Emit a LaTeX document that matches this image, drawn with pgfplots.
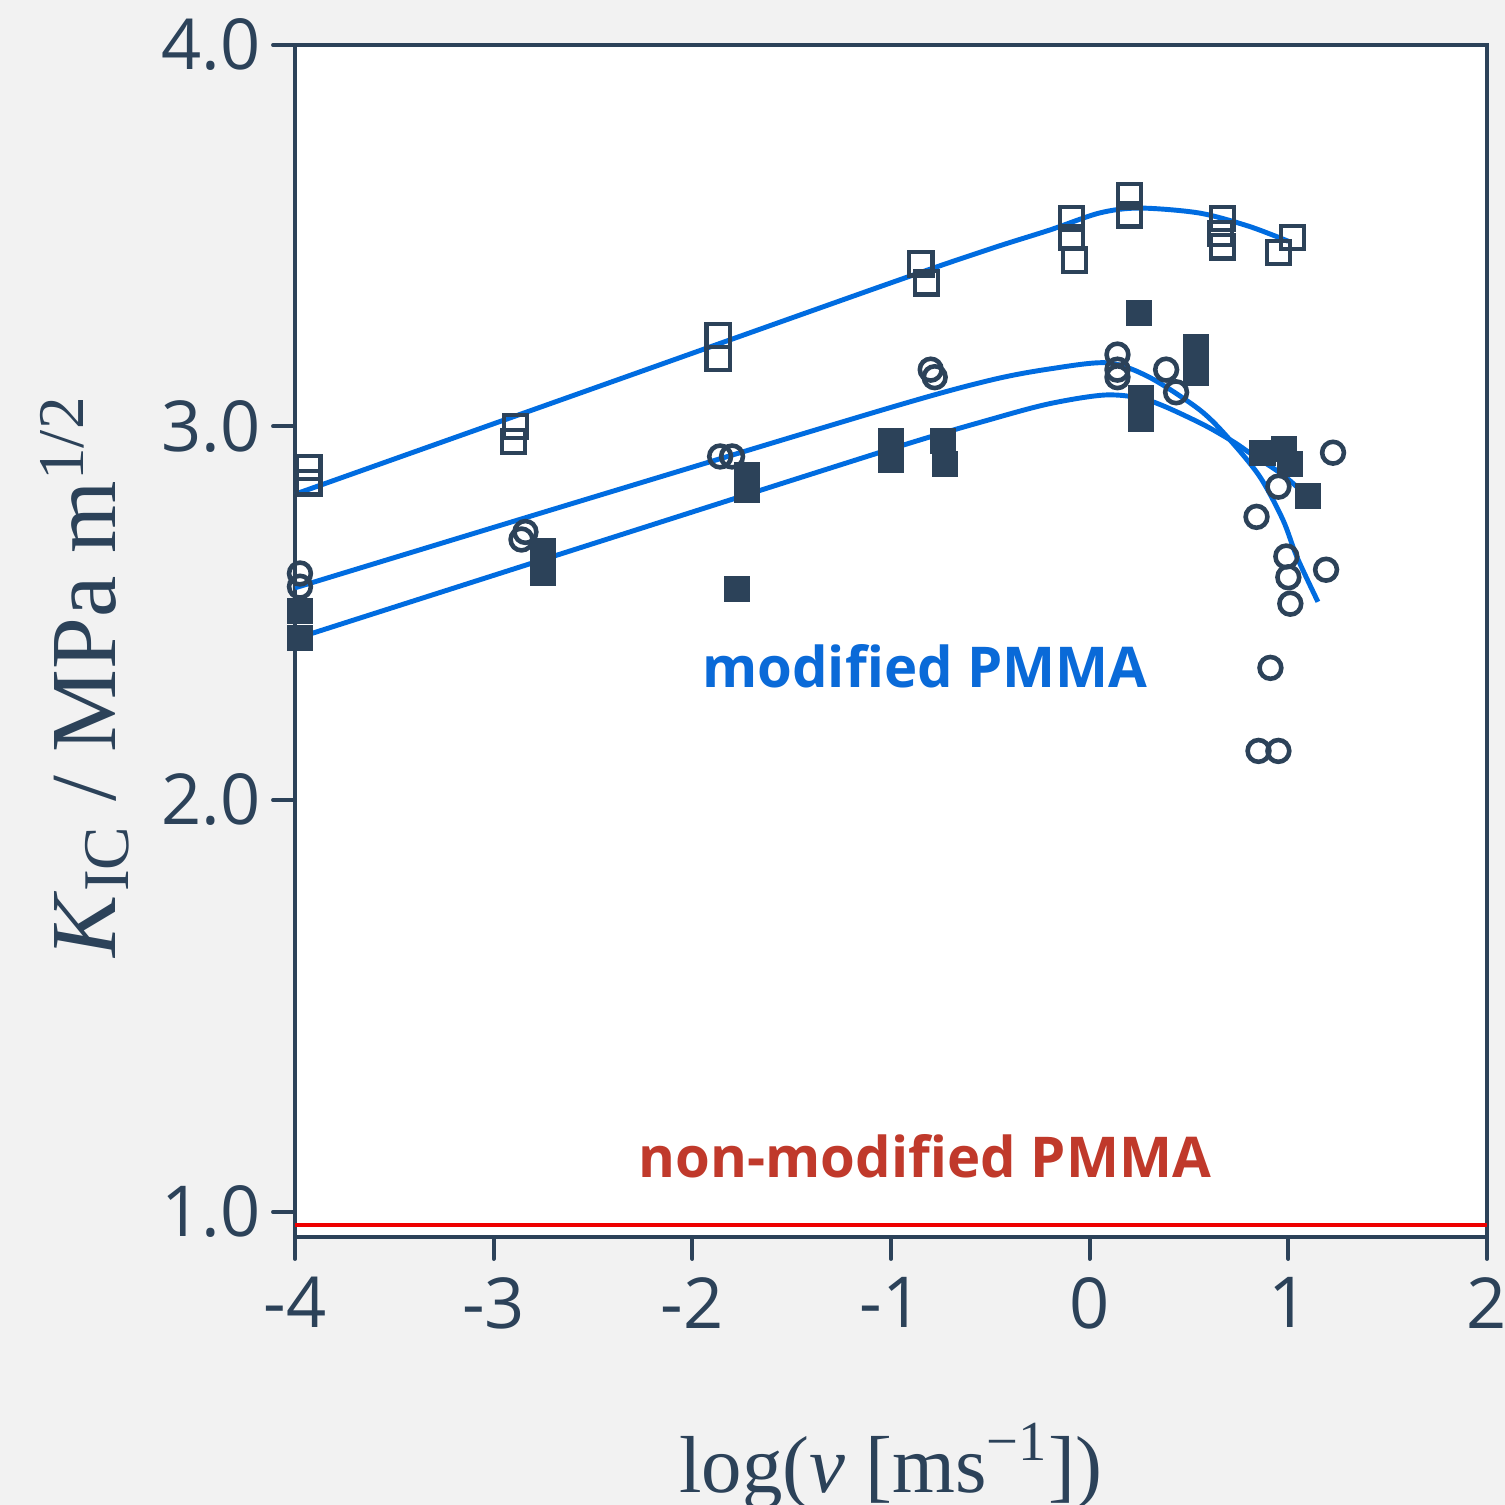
\documentclass[border=0pt]{standalone}
\usepackage{fontspec}
\setmainfont{Open Sans}
\newfontfamily\serif{Liberation Serif}
\usepackage{pgfplots}
\pgfplotsset{compat=1.18}
\usetikzlibrary{backgrounds}

\definecolor{navy}{RGB}{44,66,89}
\definecolor{lblue}{RGB}{0,108,224}
\definecolor{bg}{RGB}{242,242,242}
\definecolor{redtxt}{RGB}{192,57,43}
\definecolor{redline}{RGB}{238,0,0}
\definecolor{bluetxt}{RGB}{10,106,216}

\begin{document}
\begin{tikzpicture}
\begin{axis}[
    name=ax,
    width=11.92cm, height=11.92cm, scale only axis,
    xmin=-4, xmax=2, ymin=0.8424, ymax=4,
    axis background/.style={fill=white},
    axis line style={draw=navy, line width=1.4pt},
    xtick={-4,-3,-2,-1,0,1,2},
    xticklabels={-4,-3,-2,-1,0,1,2},
    ytick={0.909,2,2.99,4},
    yticklabels={1.0,2.0,3.0,4.0},
    tick align=outside, xtick pos=bottom, ytick pos=left,
    major tick length=0.22cm,
    tick style={draw=navy, line width=1.1pt, line cap=round},
    ticklabel style={font=\fontsize{20}{24}\selectfont, text=navy},
    xticklabel style={yshift=-0.06cm},
    xlabel={\serif\fontsize{23}{28}\selectfont log(\textit{v} [ms\textsuperscript{−1}])},
    xlabel style={at={(rel axis cs:0.5,-0.214)}, anchor=base, text=navy},
    ylabel={\serif\fontsize{26.5}{31}\selectfont \textit{K}\textsubscript{IC} / MPa m\textsuperscript{1/2}},
    ylabel style={at={(rel axis cs:-0.151,0.47)}, anchor=base, text=navy},
]
% open squares
\addplot[only marks, mark=square, mark size=3.3pt,
    mark options={draw=navy, line width=1.2pt}] coordinates {
    (-3.93,2.88) (-3.93,2.84) (-2.89,2.99) (-2.90,2.95)
    (-1.87,3.23) (-1.87,3.17) (-0.85,3.42) (-0.82,3.37)
    (-0.09,3.54) (-0.09,3.49) (-0.075,3.43) (0.20,3.60) (0.20,3.55)
    (0.67,3.54) (0.66,3.50) (0.67,3.465) (0.95,3.45) (1.02,3.49)
};
% filled squares
\addplot[only marks, mark=square*, mark size=3.4pt,
    mark options={draw=navy, fill=navy, line width=0.6pt}] coordinates {
    (-3.975,2.50) (-3.975,2.43) (-2.75,2.66) (-2.75,2.60)
    (-1.775,2.56) (-1.725,2.86) (-1.725,2.82) (-1.0,2.95) (-1.0,2.90)
    (-0.74,2.95) (-0.73,2.89) (0.25,3.29) (0.26,3.065) (0.26,3.01)
    (0.535,3.20) (0.535,3.13) (0.87,2.92) (0.98,2.93) (1.01,2.89) (1.10,2.805)
};
% open circles
\addplot[only marks, mark=o, mark size=3.1pt,
    mark options={draw=navy, line width=1.3pt}] coordinates {
    (-3.975,2.60) (-3.975,2.565) (-2.84,2.71) (-2.86,2.69)
    (-1.86,2.91) (-1.80,2.91) (-0.80,3.14) (-0.78,3.12)
    (0.14,3.18) (0.14,3.14) (0.14,3.12) (0.385,3.14) (0.435,3.08)
    (1.225,2.92) (0.95,2.83) (0.84,2.75) (0.99,2.645) (1.0,2.59)
    (1.19,2.61) (1.01,2.52) (0.91,2.35) (0.85,2.13) (0.95,2.13)
};
% fitted curves
\addplot[smooth, no marks, lblue, line width=1.4pt] coordinates {
    (-4,2.81) (-2.5,3.09) (-1,3.37) (-0.5,3.46) (-0.2,3.51)
    (0.05,3.555) (0.25,3.568) (0.55,3.555) (0.8,3.52) (1.0,3.48)
};
\addplot[smooth, no marks, lblue, line width=1.4pt] coordinates {
    (-4,2.562) (-2.5,2.802) (-1,3.04) (-0.5,3.112) (-0.2,3.142)
    (0.09,3.158) (0.3,3.12) (0.555,3.033) (0.706,2.954) (0.857,2.856)
    (0.973,2.742) (1.043,2.644) (1.149,2.525)
};
\addplot[smooth, no marks, lblue, line width=1.4pt] coordinates {
    (-4,2.427) (-2.5,2.679) (-1,2.93) (-0.5,3.008) (-0.2,3.05)
    (0.087,3.073) (0.3,3.058) (0.555,2.999) (0.72,2.95) (0.807,2.919)
    (0.973,2.861) (1.098,2.803)
};
% non-modified PMMA level
\addplot[no marks, redline, line width=1.2pt] coordinates {(-4,0.874) (2,0.874)};

\node[anchor=base, text=bluetxt, font=\fontsize{16}{19}\selectfont\bfseries]
    at (axis cs:-0.829,2.297) {modified PMMA};
\node[anchor=base, text=redtxt, font=\fontsize{16}{19}\selectfont\bfseries]
    at (axis cs:-0.829,1.001) {non-modified PMMA};
\end{axis}
\pgfresetboundingbox
\begin{pgfonlayer}{background}
\fill[bg] (-2.95cm,-2.68cm) rectangle (12.10cm,12.37cm);
\end{pgfonlayer}
\end{tikzpicture}
\end{document}
